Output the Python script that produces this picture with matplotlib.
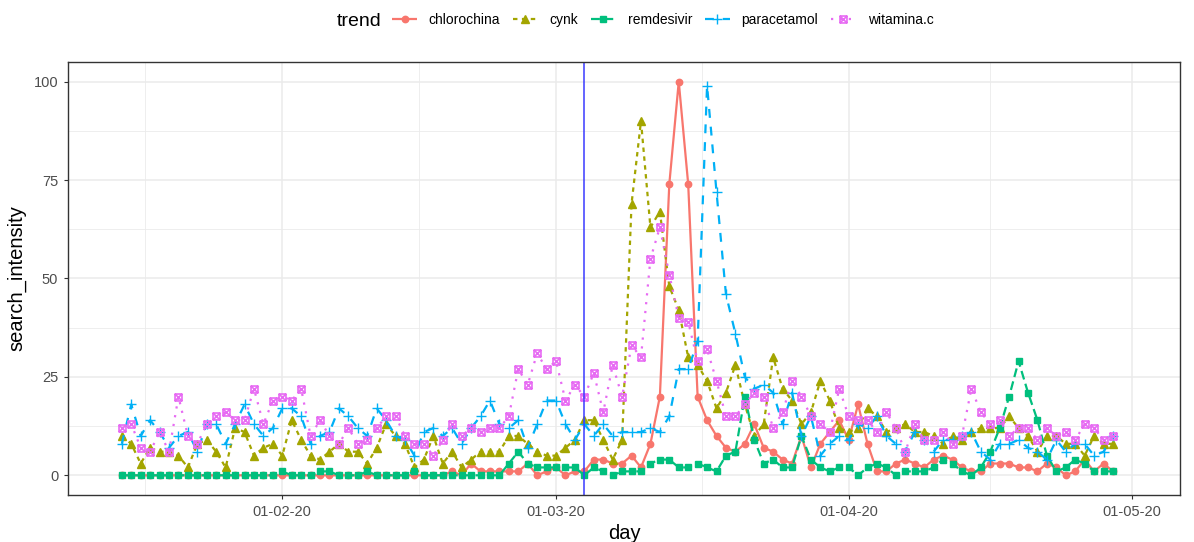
import numpy as np
import pandas as pd
import matplotlib
matplotlib.use('Agg')
import matplotlib.pyplot as plt
from matplotlib.path import Path
from matplotlib.lines import Line2D

plt.rcParams['font.family'] = ['Liberation Sans', 'DejaVu Sans']

START_DAY = '2020-01-15'
EVENT_DAY = '2020-03-04'
TICK_DAYS = ['2020-02-01', '2020-03-01', '2020-04-01', '2020-05-01']
TICK_LABELS = ['01-02-20', '01-03-20', '01-04-20', '01-05-20']

chlorochina = [0, 0, 0, 0, 0, 0, 0, 0, 0, 0,
               0, 0, 0, 0, 0, 0, 0, 0, 0, 0,
               0, 0, 0, 0, 0, 0, 0, 0, 0, 0,
               0, 0, 0, 0, 0, 1, 0, 3, 1, 1,
               1, 1, 1, 3, 0, 1, 2, 0, 1, 1,
               4, 4, 3, 3, 5, 2, 8, 20, 74, 100,
               74, 20, 14, 10, 7, 6, 8, 13, 7, 6,
               4, 3, 10, 2, 8, 11, 14, 9, 18, 8,
               1, 1, 3, 4, 3, 2, 4, 5, 4, 2,
               1, 1, 3, 3, 3, 2, 2, 1, 3, 2,
               0, 1, 4, 1, 3, 1]
cynk = [10, 8, 3, 7, 6, 6, 5, 2, 8, 9,
        6, 2, 12, 11, 5, 7, 8, 5, 14, 9,
        5, 4, 6, 8, 6, 6, 3, 7, 13, 10,
        8, 2, 4, 10, 3, 6, 2, 4, 6, 6,
        6, 10, 10, 8, 6, 5, 5, 7, 9, 14,
        14, 9, 4, 9, 69, 90, 63, 67, 48, 42,
        30, 28, 24, 17, 21, 28, 18, 10, 13, 30,
        22, 19, 13, 16, 24, 19, 12, 11, 12, 17,
        15, 11, 12, 13, 11, 11, 10, 8, 10, 9,
        11, 12, 12, 12, 15, 12, 10, 6, 10, 10,
        8, 8, 5, 10, 8, 8]
remdesivir = [0, 0, 0, 0, 0, 0, 0, 0, 0, 0,
              0, 0, 0, 0, 0, 0, 0, 1, 0, 0,
              0, 1, 1, 0, 0, 0, 1, 0, 0, 0,
              0, 1, 0, 0, 0, 0, 0, 0, 0, 0,
              0, 3, 6, 3, 2, 2, 2, 2, 2, 0,
              2, 1, 0, 1, 1, 1, 3, 4, 4, 2,
              2, 3, 2, 1, 5, 6, 20, 9, 3, 4,
              2, 2, 10, 4, 2, 1, 2, 2, 0, 2,
              3, 2, 0, 1, 1, 1, 2, 4, 3, 1,
              0, 2, 6, 12, 20, 29, 21, 14, 5, 1,
              2, 4, 3, 1, 1, 1]
paracetamol = [8, 18, 10, 14, 11, 7, 10, 11, 6, 13,
               13, 8, 13, 18, 13, 10, 12, 17, 17, 15,
               8, 10, 11, 17, 15, 12, 10, 17, 14, 10,
               9, 5, 11, 12, 10, 12, 8, 12, 15, 19,
               13, 12, 14, 7, 13, 19, 19, 13, 9, 13,
               10, 13, 10, 11, 11, 11, 12, 11, 15, 27,
               27, 34, 99, 72, 46, 36, 25, 22, 23, 21,
               13, 21, 10, 15, 5, 8, 10, 9, 13, 12,
               15, 10, 8, 6, 11, 9, 6, 9, 9, 10,
               11, 6, 4, 8, 8, 9, 7, 6, 4, 9,
               6, 8, 8, 5, 6, 10]
witamina_c = [12, 13, 7, 6, 11, 6, 20, 10, 8, 13,
              15, 16, 14, 14, 22, 13, 19, 20, 19, 22,
              10, 14, 10, 8, 12, 8, 9, 12, 15, 15,
              10, 8, 8, 5, 9, 13, 10, 12, 11, 12,
              12, 15, 27, 23, 31, 27, 29, 19, 23, 20,
              26, 16, 28, 20, 33, 30, 55, 63, 51, 40,
              39, 29, 32, 24, 15, 15, 18, 21, 20, 12,
              16, 24, 20, 15, 13, 11, 22, 15, 14, 14,
              11, 16, 12, 6, 13, 9, 9, 11, 8, 10,
              22, 16, 13, 14, 10, 12, 12, 9, 12, 10,
              11, 9, 13, 12, 9, 10]

days = pd.date_range(START_DAY, periods=len(chlorochina), freq='D')

# square with a cross inside (ggplot shape 7)
box_x = Path([(-1, -1), (1, -1), (1, 1), (-1, 1), (-1, -1), (-1, -1), (1, 1), (-1, 1), (1, -1)],
             [Path.MOVETO, Path.LINETO, Path.LINETO, Path.LINETO, Path.CLOSEPOLY,
              Path.MOVETO, Path.LINETO, Path.MOVETO, Path.LINETO])

series = [
    ('chlorochina', chlorochina, '#F8766D', (0, ()), 'o', 4.6, True),
    ('cynk', cynk, '#A3A500', (0, (2, 2)), '^', 5.4, True),
    ('remdesivir', remdesivir, '#00BF7D', (0, (4, 2)), 's', 4.6, True),
    ('paracetamol', paracetamol, '#00B0F6', (0, (4, 4)), '+', 7.5, True),
    ('witamina.c', witamina_c, '#E76BF3', (0, (1, 3)), box_x, 5.0, False),
]

fig = plt.figure(figsize=(11.94, 5.42), dpi=100)
ax = fig.add_axes([68 / 1194, 1 - 495 / 542, (1180 - 68) / 1194, (495 - 62) / 542])

handles = []
for name, vals, col, ls, mk, ms, filled in series:
    kw = dict(color=col, linestyle=ls, linewidth=1.6, marker=mk, markersize=ms,
              markeredgewidth=1.2 if not filled else 1.0, label=name)
    if not filled:
        kw['markerfacecolor'] = 'none'
    ax.plot(days, vals, **kw)
    handles.append(Line2D([], [], **kw))

ax.axvline(pd.Timestamp(EVENT_DAY), color='#3a3aff', linewidth=1.1)

feb1 = pd.Timestamp('2020-02-01')
ax.set_xlim(feb1 - pd.Timedelta(days=22.7), feb1 + pd.Timedelta(days=95.1))
ax.set_ylim(-5, 105)

ax.set_xticks([pd.Timestamp(t) for t in TICK_DAYS])
ax.set_xticklabels(TICK_LABELS)
minor_x = [feb1 - pd.Timedelta(days=14.5), pd.Timestamp('2020-02-15 12:00'),
           pd.Timestamp('2020-03-16 12:00'), pd.Timestamp('2020-04-16')]
ax.set_xticks(minor_x, minor=True)
ax.set_yticks([0, 25, 50, 75, 100])
ax.set_yticks([12.5, 37.5, 62.5, 87.5], minor=True)

ax.grid(True, which='major', color='#EBEBEB', linewidth=1.1)
ax.grid(True, which='minor', color='#EBEBEB', linewidth=0.6)
ax.set_axisbelow(True)
ax.tick_params(which='major', direction='out', length=3, width=0.8, color='#333333',
               labelsize=10.5, labelcolor='#4D4D4D', pad=4)
ax.tick_params(which='minor', length=0)
for sp in ax.spines.values():
    sp.set_color('#333333')
    sp.set_linewidth(1.0)

ax.set_xlabel('day', fontsize=14.5, labelpad=4)
ax.set_ylabel('search_intensity', fontsize=14.5, labelpad=5)

fig.text(337 / 1194, 1 - 21 / 542, 'trend', fontsize=14, va='center', ha='left')
fig.legend(handles=handles, loc='center left', bbox_to_anchor=(392 / 1194, 1 - 20 / 542),
           ncol=5, frameon=False, fontsize=10, handlelength=1.8, handletextpad=0.85,
           columnspacing=0.9, borderaxespad=0, borderpad=0)

fig.savefig('out.png', dpi=100)
